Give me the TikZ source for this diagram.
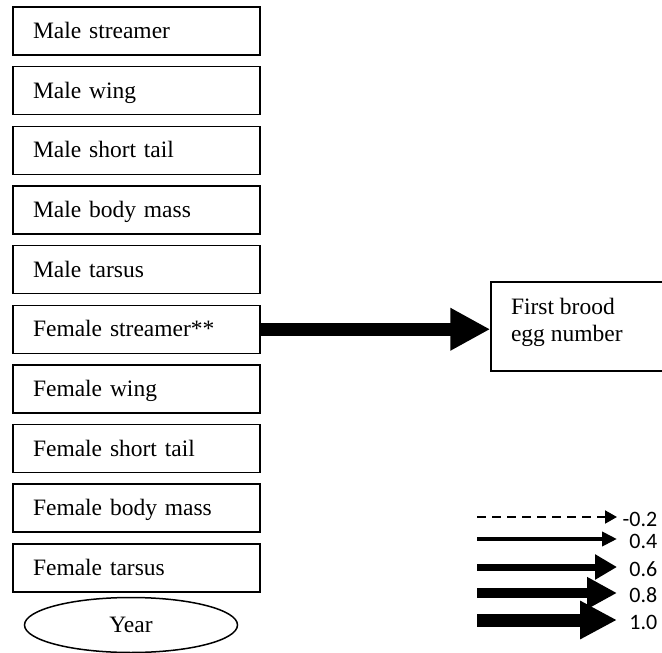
\documentclass[tikz,border=0pt]{standalone}
\usepackage{fontspec}
\setmainfont{Liberation Serif}
\newfontfamily\legendfont{Carlito}
\usetikzlibrary{arrows.meta,shapes.geometric}

\begin{document}
\begin{tikzpicture}[
        x = 1pt, y = -1pt,
        line width = 1.5pt,
        trait/.style = {draw, rectangle, minimum height = 48pt, text width = 207pt,
            inner xsep = 20pt, inner ysep = 0pt, align = left,
            text height = 17pt, text depth = 2pt, font = \fontsize{23.5}{27}\selectfont},
        outcome/.style = {draw, rectangle, minimum width = 189pt, minimum height = 89pt},
        year/.style = {draw, ellipse, minimum width = 213pt, minimum height = 55pt,
            inner sep = 0pt, font = \fontsize{23.5}{27}\selectfont},
        bigarrow/.style = {line width = 13pt, -{Triangle[length = 40pt, width = 40pt]}},
        key/.style = {inner sep = 0pt, font = \legendfont\fontsize{22}{24}\selectfont},
        keydash/.style = {dash pattern = on 9pt off 6pt}
    ]
        \useasboundingbox (0,0) rectangle (662,653);
        % predictors
        \foreach \name/\txt [count = \i from 0] in {ms/Male streamer, mw/Male wing,
            mst/Male short tail, mbm/Male body mass, mt/Male tarsus,
            fs/Female streamer**, fw/Female wing, fst/Female short tail,
            fbm/Female body mass, ft/Female tarsus}
            \node[trait] (\name) at (136.5, 31 + 59.65*\i) {\txt};
        \node[year] (yr) at (131,625) {Year};
        % response
        \node[outcome] (egg) at (585.5,326.5) {};
        \node[anchor = north west, align = left, inner sep = 0pt,
            font = \fontsize{23.5}{27}\selectfont] (eggtxt)
            at ([xshift = 20pt, yshift = -16pt]egg.north west) {First brood\\egg number};
        \draw[bigarrow] (fs.east) -- (fs.east -| egg.west);
        % legend
        \foreach \yy/\lw/\hl/\hw/\lab/\pat [count = \k] in {
            517/2/12/13/-0.2/keydash,
            539/4/15/14/0.4/solid, 567/7/22/24/0.6/solid,
            593/10/30/30/0.8/solid, 620/13/37/36/1.0/solid} {
            \coordinate (ls\k) at (477,\yy);
            \coordinate (le\k) at (617,\yy);
            \node[key, anchor = east] (lab\k) at (658,\yy+2) {\lab};
            \draw[line width = \lw pt, \pat, -{Triangle[length = \hl pt, width = \hw pt]}] (ls\k) -- (le\k);
        }
    \end{tikzpicture}
\end{document}
